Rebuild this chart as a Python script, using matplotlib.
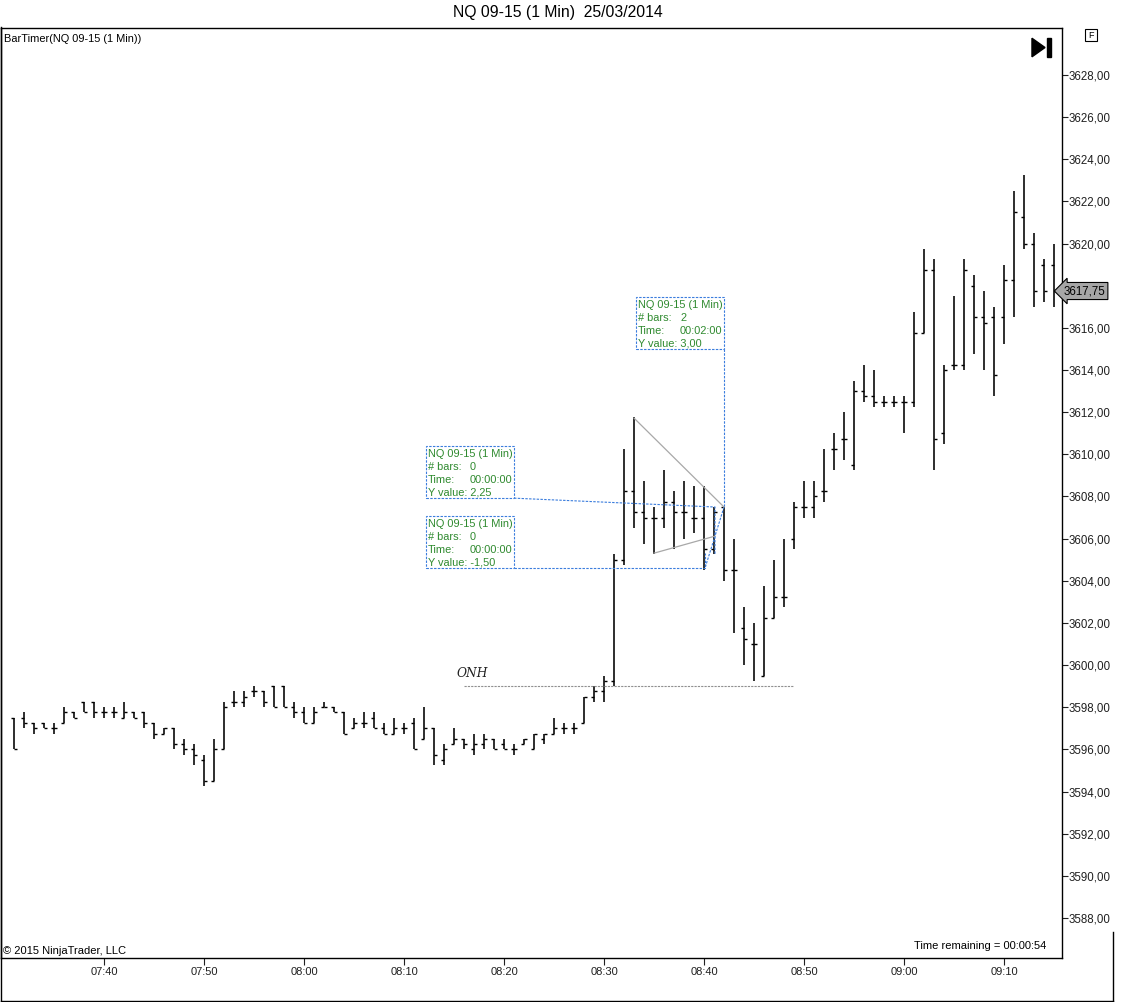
import numpy as np
import matplotlib
matplotlib.use("Agg")
import matplotlib.pyplot as plt
from matplotlib.patches import Rectangle, Polygon
from matplotlib.ticker import FuncFormatter
import matplotlib.transforms as mtransforms

plt.rcParams['font.family'] = ['Liberation Sans', 'DejaVu Sans']

# ---------------- data ----------------
first_bar_time = "07:31"
opens = [3597.5, 3597.5, 3597.25, 3597.25, 3597.0, 3597.25, 3597.75, 3598.25, 3598.25, 3597.75,
         3597.75, 3597.5, 3597.75, 3597.75, 3597.25, 3596.75, 3597.0, 3596.25, 3596.0, 3595.5,
         3594.5, 3596.0, 3598.25, 3598.25, 3598.75, 3598.75, 3599.0, 3599.0, 3598.0, 3597.75,
         3597.25, 3598.0, 3598.0, 3597.75, 3597.0, 3597.25, 3597.5, 3597.0, 3596.75, 3597.0,
         3597.25, 3596.5, 3597.0, 3595.5, 3596.25, 3596.5, 3596.0, 3596.25, 3596.5, 3596.25,
         3596.0, 3596.25, 3596.0, 3596.5, 3596.75, 3597.0, 3597.0, 3597.25, 3598.5, 3598.75,
         3599.25, 3605.0, 3608.25, 3607.25, 3607.0, 3607.0, 3607.75, 3607.25, 3607.0, 3607.0,
         3605.5, 3607.5, 3604.5, 3601.75, 3601.0, 3599.5, 3602.25, 3603.25, 3606.0, 3607.5,
         3607.5, 3608.25, 3610.25, 3610.75, 3609.5, 3613.0, 3612.75, 3612.5, 3612.5, 3612.5,
         3612.5, 3615.75, 3618.75, 3611.0, 3614.25, 3614.25, 3618.0, 3616.5, 3616.5, 3616.5,
         3618.25, 3621.25, 3620.0, 3619.0, 3619.0]
highs = [3597.5, 3597.75, 3597.25, 3597.25, 3597.25, 3598.0, 3597.75, 3598.25, 3598.25, 3598.0,
         3598.0, 3598.25, 3597.75, 3597.75, 3597.25, 3597.0, 3597.0, 3596.5, 3596.25, 3595.75,
         3596.5, 3598.25, 3598.75, 3598.75, 3599.0, 3598.75, 3599.0, 3599.0, 3598.25, 3598.0,
         3598.0, 3598.25, 3598.0, 3597.75, 3597.5, 3597.75, 3597.75, 3597.25, 3597.5, 3597.25,
         3597.5, 3598.0, 3597.0, 3596.25, 3597.0, 3596.5, 3596.75, 3596.75, 3596.5, 3596.5,
         3596.25, 3596.5, 3596.75, 3596.75, 3597.5, 3597.25, 3597.25, 3598.5, 3599.0, 3599.5,
         3605.25, 3610.25, 3611.75, 3608.75, 3607.5, 3609.25, 3608.25, 3608.75, 3608.5, 3608.5,
         3607.5, 3607.5, 3606.0, 3602.75, 3602.0, 3603.75, 3605.0, 3606.0, 3607.75, 3608.75,
         3608.75, 3610.25, 3611.0, 3612.0, 3613.5, 3614.25, 3614.0, 3612.75, 3612.75, 3612.75,
         3616.75, 3619.75, 3619.25, 3614.25, 3617.5, 3619.25, 3618.5, 3617.75, 3617.0, 3619.0,
         3622.5, 3623.25, 3620.5, 3619.25, 3620.0]
lows = [3596.0, 3597.0, 3596.75, 3597.0, 3596.75, 3597.25, 3597.5, 3597.75, 3597.5, 3597.5,
        3597.5, 3597.5, 3597.5, 3597.0, 3596.5, 3596.75, 3596.0, 3595.75, 3595.25, 3594.25,
        3594.5, 3596.0, 3598.0, 3598.0, 3598.5, 3598.0, 3598.0, 3598.0, 3597.5, 3597.25,
        3597.25, 3598.0, 3597.75, 3596.75, 3597.0, 3597.0, 3597.0, 3596.75, 3596.75, 3596.75,
        3596.0, 3596.5, 3595.25, 3595.25, 3596.25, 3596.0, 3595.75, 3596.0, 3596.0, 3596.0,
        3595.75, 3596.25, 3596.0, 3596.25, 3596.75, 3596.75, 3596.75, 3597.25, 3598.25, 3598.25,
        3599.0, 3604.75, 3606.5, 3605.75, 3605.25, 3606.5, 3605.5, 3606.0, 3606.25, 3604.5,
        3605.25, 3604.0, 3601.5, 3600.0, 3599.25, 3599.5, 3602.25, 3602.75, 3605.5, 3607.0,
        3607.0, 3607.75, 3609.25, 3609.75, 3609.25, 3612.5, 3612.25, 3612.25, 3612.25, 3611.0,
        3612.25, 3615.75, 3609.25, 3610.5, 3614.0, 3614.0, 3614.75, 3614.0, 3612.75, 3615.25,
        3616.5, 3619.75, 3617.0, 3617.25, 3617.0]
closes = [3596.0, 3597.25, 3597.0, 3597.0, 3597.0, 3597.75, 3597.5, 3597.75, 3597.75, 3597.75,
          3597.75, 3597.75, 3597.5, 3597.25, 3596.75, 3597.0, 3596.25, 3596.0, 3595.75, 3594.5,
          3596.0, 3598.0, 3598.25, 3598.5, 3598.75, 3598.25, 3598.0, 3598.0, 3597.75, 3597.25,
          3597.75, 3598.0, 3597.75, 3596.75, 3597.25, 3597.25, 3597.0, 3596.75, 3597.0, 3597.0,
          3596.0, 3597.0, 3595.75, 3596.0, 3596.5, 3596.25, 3596.25, 3596.5, 3596.0, 3596.0,
          3596.0, 3596.5, 3596.75, 3596.75, 3597.0, 3597.0, 3597.0, 3598.5, 3598.75, 3599.25,
          3605.0, 3608.25, 3607.25, 3607.0, 3607.0, 3607.75, 3607.25, 3607.25, 3607.0, 3605.5,
          3607.25, 3604.5, 3604.5, 3601.25, 3601.0, 3602.25, 3603.25, 3603.25, 3607.5, 3607.5,
          3608.0, 3608.25, 3610.25, 3610.75, 3613.0, 3612.75, 3612.5, 3612.5, 3612.5, 3612.5,
          3615.75, 3618.75, 3610.75, 3614.0, 3614.25, 3618.75, 3616.5, 3616.25, 3613.75, 3618.25,
          3621.5, 3620.0, 3617.75, 3617.75, 3617.75]

time_tick_labels = ["07:40", "07:50", "08:00", "08:10", "08:20", "08:30", "08:40", "08:50", "09:00", "09:10"]
price_ticks = list(range(3588, 3629, 2))
last_price = 3617.75

onh_level = 3599.0
onh_start = "08:16"
onh_end = "08:49"

# ruler annotation boxes (bar index, price)
box_left = [62.2, 41.2, 41.2]
box_top = [3617.46, 3610.39, 3607.07]
box_width = 8.8
box_height = 2.47
box_bars = ["2", "0", "0"]
box_time = ["00:02:00", "00:00:00", "00:00:00"]
box_yval = ["3,00", "2,25", "-1,50"]

ruler_a_x = [71.0, 71.0]
ruler_a_y = [3614.99, 3607.5]
ruler_b_x = [50.0, 70.1, 70.1]
ruler_b_y = [3607.92, 3607.5, 3605.22]
ruler_c_x = [50.0, 69.1, 69.1]
ruler_c_y = [3604.60, 3604.60, 3605.31]
ruler_d_x = [71.0, 70.1, 69.1]
ruler_d_y = [3607.5, 3606.12, 3604.60]
grey1_x = [62.0, 71.0]
grey1_y = [3611.72, 3607.5]
grey2_x = [64.0, 70.1]
grey2_y = [3605.31, 3606.12]


def minute_index(t):
    h, m = map(int, t.split(":"))
    h0, m0 = map(int, first_bar_time.split(":"))
    return (h * 60 + m) - (h0 * 60 + m0)


# ---------------- figure ----------------
W, H = 1122, 1002
fig = plt.figure(figsize=(W / 100, H / 100), dpi=100)
fig.patch.set_facecolor("white")
ax = fig.add_axes([1 / W, 44 / H, 1061 / W, 930 / H])
ax.set_xlim(-1.3, 104.8)
ax.set_ylim(3586.10, 3630.23)

idx = np.arange(len(opens))
ax.vlines(idx, lows, highs, color="black", lw=1.15)
ax.hlines(opens, idx - 0.28, idx, color="black", lw=1.0)
ax.hlines(closes, idx, idx + 0.28, color="black", lw=1.0)

# axes styling
for s in ax.spines.values():
    s.set_color("black")
    s.set_linewidth(1.0)
ax.yaxis.tick_right()
ax.set_yticks(price_ticks)


def price_fmt(v, p):
    # the tick label under the last-price marker is hidden by it
    if abs(v - round(last_price)) < 0.6 and abs(v - last_price) < 1.0:
        return ""
    return f"{v:.2f}".replace(".", ",")


ax.yaxis.set_major_formatter(FuncFormatter(price_fmt))
ax.tick_params(axis="y", direction="out", length=4, width=0.8, pad=1, labelsize=8.3, colors="#202020")
ax.set_xticks([minute_index(t) for t in time_tick_labels])
ax.set_xticklabels(time_tick_labels)
ax.tick_params(axis="x", direction="out", length=5, width=0.8, pad=1.5, labelsize=8.0, colors="#202020")

# ONH line
ax.hlines(onh_level, minute_index(onh_start), minute_index(onh_end), colors="#909090",
          linestyles=(0, (2, 1)), lw=0.8)
ax.text(minute_index(onh_start) - 0.7, onh_level + 0.3, "ONH", family="DejaVu Serif",
        style="italic", fontsize=8.8, color="#202020", ha="left", va="bottom")

# ruler tool
blue = "#3b7ddd"
dash = (0, (2.2, 1.2))
for bx, by in [(ruler_a_x, ruler_a_y), (ruler_b_x, ruler_b_y), (ruler_c_x, ruler_c_y), (ruler_d_x, ruler_d_y)]:
    ax.plot(bx, by, color=blue, lw=0.8, linestyle=dash)
ax.plot(grey1_x, grey1_y, color="#a8a8a8", lw=0.9)
ax.plot(grey2_x, grey2_y, color="#a8a8a8", lw=0.9)

green = "#2f8a2f"
for bl, bt, nb, tm, yv in zip(box_left, box_top, box_bars, box_time, box_yval):
    ax.add_patch(Rectangle((bl, bt - box_height), box_width, box_height, fill=True,
                           facecolor="white", edgecolor=blue, lw=0.8, linestyle=dash, zorder=3))
    rows = [("NQ 09-15 (1 Min)", None), ("# bars:", nb), ("Time:", tm), ("Y value: " + yv, None)]
    for k, (lab, val) in enumerate(rows):
        tr = mtransforms.offset_copy(ax.transData, fig=fig, x=1.5, y=-(7.5 + 13 * k), units="dots")
        ax.text(bl, bt, lab, transform=tr, fontsize=7.9, color=green, ha="left", va="center", zorder=4)
        if val is not None:
            tr2 = mtransforms.offset_copy(ax.transData, fig=fig, x=44, y=-(7.5 + 13 * k), units="dots")
            ax.text(bl, bt, val, transform=tr2, fontsize=7.9, color=green, ha="left", va="center", zorder=4)

# last price marker
trans = mtransforms.blended_transform_factory(ax.transAxes, ax.transData)
ax.text(1.0015, last_price, "3617,75", transform=trans, fontsize=8.3, color="black",
        ha="left", va="center", clip_on=False, zorder=5,
        bbox=dict(boxstyle="larrow,pad=0.22", fc="#a6a6a6", ec="black", lw=0.8))

# texts
fig.text(558 / W, 1 - 13 / H, "NQ 09-15 (1 Min)  25/03/2014", ha="center", va="center", fontsize=11.3)
ax.text(0.003, 0.988, "BarTimer(NQ 09-15 (1 Min))", transform=ax.transAxes, fontsize=7.9,
        ha="left", va="center")
ax.text(0.002, 0.002, "\u00a9 2015 NinjaTrader, LLC", transform=ax.transAxes, fontsize=8.0,
        ha="left", va="bottom")
ax.text(0.985, 0.008, "Time remaining = 00:00:54", transform=ax.transAxes, fontsize=8.0,
        ha="right", va="bottom")

# play/end icon
ax.add_patch(Polygon([[0.9717, 0.989], [0.9717, 0.969], [0.984, 0.979]], closed=True,
                     transform=ax.transAxes, color="black", clip_on=False))
ax.add_patch(Rectangle((0.9862, 0.969), 0.0035, 0.020, transform=ax.transAxes,
                       color="black", clip_on=False))

# F box in price axis
fig.patches.append(Rectangle((1085 / W, 1 - 41 / H), 12 / W, 12 / H, transform=fig.transFigure,
                             fill=False, ec="black", lw=0.8))
fig.text(1091 / W, 1 - 35 / H, "F", ha="center", va="center", fontsize=6.5)

# outer frame
fig.lines.append(plt.Line2D([0.5 / W, 0.5 / W], [1 - 1001 / H, 1 - 27 / H], transform=fig.transFigure, color="black", lw=1))
fig.lines.append(plt.Line2D([0.5 / W, 1113 / W], [1 - 1000.5 / H, 1 - 1000.5 / H], transform=fig.transFigure, color="black", lw=1))
fig.lines.append(plt.Line2D([1113 / W, 1113 / W], [1 - 1001 / H, 1 - 932 / H], transform=fig.transFigure, color="black", lw=1))

fig.savefig("out.png", dpi=100)
